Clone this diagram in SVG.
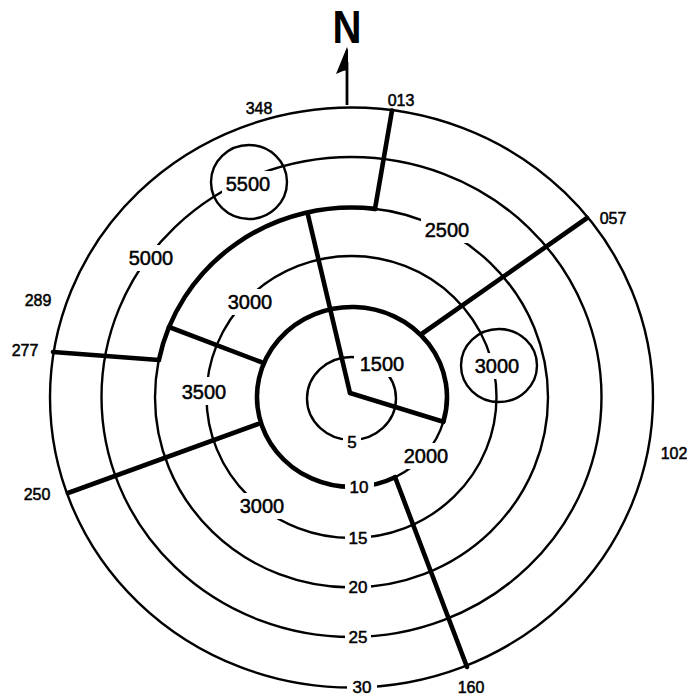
<svg xmlns="http://www.w3.org/2000/svg" width="687" height="696" viewBox="0 0 687 696">
<style>
.ring{fill:none;stroke:#000;stroke-width:2.4}
.heavy{fill:none;stroke:#000;stroke-width:4.6;stroke-linecap:round;stroke-linejoin:round}
.gap{fill:#fff;stroke:none}
.alt{font-family:"Liberation Sans",Arial,sans-serif;font-size:20px;text-anchor:middle;fill:#000;stroke:#000;stroke-width:0.5}
.dist{font-family:"Liberation Sans",Arial,sans-serif;font-size:17px;text-anchor:middle;fill:#000;stroke:#000;stroke-width:0.5}
.brg{font-family:"Liberation Sans",Arial,sans-serif;font-size:16px;text-anchor:middle;fill:#000;stroke:#000;stroke-width:0.5}
</style>
<rect width="687" height="696" fill="#fff"/>
<g id="rings">
  <ellipse class="ring" cx="351.5" cy="398.5" rx="44.5" ry="41.5"/>
  <ellipse class="ring" cx="352" cy="397" rx="95" ry="90"/>
  <ellipse class="ring" cx="351.5" cy="397" rx="145" ry="141"/>
  <ellipse class="ring" cx="351.5" cy="397.5" rx="196.5" ry="190"/>
  <ellipse class="ring" cx="351.5" cy="397" rx="250" ry="240"/>
  <ellipse class="ring" cx="351.5" cy="397.5" rx="301.5" ry="290"/>
</g>
<g id="connectors">
  <path class="heavy" d="M443.3 421.8 A95 90 0 1 0 395.1 477.2"/>
  <path class="heavy" d="M158.9 360 A196.5 190 0 0 1 375 208.9"/>
  <line class="heavy" x1="350" y1="393" x2="307.5" y2="213"/>
  <line class="heavy" x1="350" y1="393" x2="443.3" y2="421.8"/>
  <line class="heavy" x1="375" y1="208.9" x2="392" y2="110.5"/>
  <line class="heavy" x1="423" y1="333" x2="587" y2="218"/>
  <line class="heavy" x1="158.9" y1="360" x2="53" y2="352"/>
  <line class="heavy" x1="169" y1="327" x2="261" y2="362"/>
  <line class="heavy" x1="258" y1="424" x2="68" y2="493"/>
  <line class="heavy" x1="395.1" y1="477.2" x2="467" y2="667"/>
</g>
<g id="circle-5500">
  <ellipse class="ring" cx="249" cy="182" rx="38" ry="37"/>
  <rect class="gap" x="222" y="171" width="52" height="26"/>
  <text class="alt" x="248" y="191">5500</text>
</g>
<g id="circle-3000">
  <ellipse class="ring" cx="499" cy="365.5" rx="38" ry="36.5"/>
  <rect class="gap" x="471" y="353" width="52" height="26"/>
  <text class="alt" x="497" y="373">3000</text>
</g>
<g id="alt-5000"><rect class="gap" x="125" y="245" width="52" height="26"/><text class="alt" x="151" y="265">5000</text></g>
<g id="alt-3000-nw"><rect class="gap" x="224" y="289" width="52" height="26"/><text class="alt" x="250" y="309">3000</text></g>
<g id="alt-2500"><rect class="gap" x="421" y="217" width="52" height="26"/><text class="alt" x="447" y="237">2500</text></g>
<g id="alt-1500"><rect class="gap" x="354" y="351" width="54" height="26"/><text class="alt" x="382" y="371">1500</text></g>
<g id="alt-3500"><rect class="gap" x="178" y="377" width="52" height="28"/><text class="alt" x="204" y="399">3500</text></g>
<g id="alt-2000"><rect class="gap" x="400" y="443" width="52" height="26"/><text class="alt" x="426" y="463">2000</text></g>
<g id="alt-3000-sw"><rect class="gap" x="236" y="493" width="52" height="26"/><text class="alt" x="262" y="513">3000</text></g>
<g id="dist-5"><rect class="gap" x="343" y="433" width="18" height="18"/><text class="dist" x="352" y="448">5</text></g>
<g id="dist-10"><rect class="gap" x="345" y="477" width="29" height="20"/><text class="dist" x="359" y="493">10</text></g>
<g id="dist-15"><rect class="gap" x="345" y="528" width="26" height="20"/><text class="dist" x="358" y="544">15</text></g>
<g id="dist-20"><rect class="gap" x="345" y="577" width="26" height="20"/><text class="dist" x="358" y="593">20</text></g>
<g id="dist-25"><rect class="gap" x="345" y="627" width="26" height="20"/><text class="dist" x="358" y="643">25</text></g>
<g id="dist-30"><rect class="gap" x="347" y="677" width="30" height="19"/><text class="dist" x="362" y="693">30</text></g>
<g id="bearings">
  <text class="brg" x="259" y="114">348</text>
  <text class="brg" x="401" y="106">013</text>
  <text class="brg" x="613" y="224">057</text>
  <text class="brg" x="674" y="459">102</text>
  <text class="brg" x="38" y="306">289</text>
  <text class="brg" x="25" y="356">277</text>
  <text class="brg" x="37" y="500">250</text>
  <text class="brg" x="471" y="693">160</text>
</g>
<g id="north">
  <line x1="347" y1="105" x2="347" y2="62" stroke="#000" stroke-width="2.8"/>
  <polygon points="347,47 336,74 343,71 348,70 348,50" fill="#000"/>
  <text x="347" y="43" font-family="'Liberation Sans',Arial,sans-serif" font-size="46" font-weight="bold" text-anchor="middle" textLength="29" lengthAdjust="spacingAndGlyphs">N</text>
</g>
</svg>
